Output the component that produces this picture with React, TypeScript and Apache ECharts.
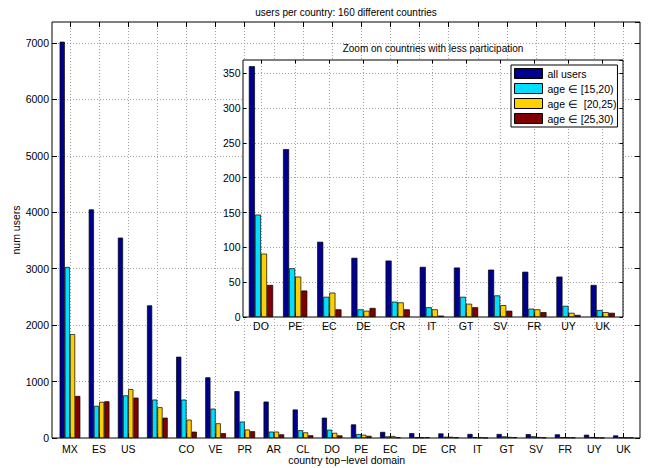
import React, { useEffect, useRef } from 'react';
import * as echarts from 'echarts';

// ---- data ----
const countries = ['MX', 'ES', 'US', '', 'CO', 'VE', 'PR', 'AR', 'CL', 'DO', 'PE', 'EC', 'DE', 'CR', 'IT', 'GT', 'SV', 'FR', 'UY', 'UK'];
const allUsers = [7020, 4050, 3550, 2350, 1440, 1075, 830, 645, 505, 360, 241, 108, 85, 81, 72, 71, 68, 65, 58, 46];
const age15to20 = [3030, 570, 755, 680, 680, 520, 290, 113, 137, 147, 70, 29, 11, 22, 14, 29, 31, 12, 16, 10];
const age20to25 = [1840, 640, 865, 545, 325, 260, 150, 113, 100, 91, 58, 35, 9, 21, 11, 19, 17, 11, 6, 7];
const age25to30 = [745, 650, 715, 360, 112, 85, 120, 65, 48, 46, 38, 11, 13, 11, 2, 14, 9, 7, 3, 6];
const seriesNames = ['all users', 'age \u2208 [15,20)', 'age \u2208  [20,25)', 'age \u2208 [25,30)'];
const zoomStart = 9; // inset shows DO .. UK
const mainYMax = 7370;
const mainYStep = 1000;
const insetYMax = 369;
const insetYStep = 50;
const mainTitle = 'users per country: 160 different countries';
const insetTitle = 'Zoom on countries with less participation';
const xName = 'country top\u2212level domain';
const yName = 'num users';

const seriesValues = [allUsers, age15to20, age20to25, age25to30];
const colors = ['#00008F', '#00DFFF', '#FFCF00', '#800000'];
const FONT = "'Liberation Sans', Arial, Helvetica, sans-serif";

const grid = { color: '#8a8a8a', width: 0.8, type: [1, 2] as any };
const plain = (v: number) => String(v);

function buildOption(): any {
  const insetCats = countries.slice(zoomStart);
  const hiddenX = (gridIndex: number) => ({
    type: 'value', gridIndex, min: 0, max: 1, show: false,
  });
  const hiddenY = (gridIndex: number, max: number) => ({
    type: 'value', gridIndex, min: 0, max, show: false,
  });
  const labelStyle = { fontSize: 10.5, color: '#000', fontFamily: FONT };

  const series: any[] = [];
  seriesValues.forEach((vals, i) => {
    series.push({
      type: 'bar', name: seriesNames[i], xAxisIndex: 1, yAxisIndex: 2, data: vals,
      barGap: '0%', barCategoryGap: '29%', z: 2,
      itemStyle: { color: colors[i], borderColor: '#000', borderWidth: 0.7 },
      emphasis: { disabled: true },
    });
  });
  seriesValues.forEach((vals, i) => {
    series.push({
      type: 'bar', name: seriesNames[i], xAxisIndex: 4, yAxisIndex: 5, data: vals.slice(zoomStart),
      barGap: '0%', barCategoryGap: '29%', z: 12,
      itemStyle: { color: colors[i], borderColor: '#000', borderWidth: 0.7 },
      emphasis: { disabled: true },
    });
  });

  return {
    animation: false,
    textStyle: { fontFamily: FONT },
    grid: [
      { left: 52, top: 22, width: 588, height: 416, show: true, backgroundColor: '#fff', borderColor: '#000', borderWidth: 1, z: 0, outerBoundsMode: 'none', containLabel: false },
      { left: 55.4, top: 22, width: 582.6, height: 416, show: false, z: 0, outerBoundsMode: 'none', containLabel: false },
      { left: 243, top: 60, width: 380, height: 257, show: true, backgroundColor: '#fff', borderColor: '#000', borderWidth: 1, z: 10, outerBoundsMode: 'none', containLabel: false },
      { left: 243.9, top: 60, width: 375.9, height: 257, show: false, z: 10, outerBoundsMode: 'none', containLabel: false },
    ],
    xAxis: [
      hiddenX(0),
      {
        type: 'category', gridIndex: 1, data: countries, position: 'bottom', z: 1,
        axisLine: { show: false },
        axisTick: { show: true, inside: true, alignWithLabel: true, length: 5, interval: 0, lineStyle: { color: '#000' } },
        axisLabel: { ...labelStyle, margin: 5, interval: 0 },
        splitLine: { show: true, alignWithLabel: true, interval: 0, lineStyle: grid },
        name: xName, nameLocation: 'middle', nameGap: 16, nameMoveOverlap: false,
        nameTextStyle: { ...labelStyle },
      },
      {
        type: 'category', gridIndex: 1, data: countries, position: 'top', z: 1,
        axisLine: { show: false },
        axisTick: { show: true, inside: true, alignWithLabel: true, length: 5, interval: 0, lineStyle: { color: '#000' } },
        axisLabel: { show: false },
        splitLine: { show: false },
      },
      hiddenX(2),
      {
        type: 'category', gridIndex: 3, data: insetCats, position: 'bottom', z: 11,
        axisLine: { show: false },
        axisTick: { show: true, inside: true, alignWithLabel: true, length: 3.5, interval: 0, lineStyle: { color: '#000' } },
        axisLabel: { ...labelStyle, margin: 3, interval: 0 },
        splitLine: { show: true, alignWithLabel: true, interval: 0, lineStyle: grid },
      },
      {
        type: 'category', gridIndex: 3, data: insetCats, position: 'top', z: 11,
        axisLine: { show: false },
        axisTick: { show: true, inside: true, alignWithLabel: true, length: 3.5, interval: 0, lineStyle: { color: '#000' } },
        axisLabel: { show: false },
        splitLine: { show: false },
      },
    ],
    yAxis: [
      {
        type: 'value', gridIndex: 0, min: 0, max: mainYMax, interval: mainYStep, position: 'left', z: 1,
        axisLine: { show: false },
        axisTick: { show: true, inside: true, length: 5, lineStyle: { color: '#000' } },
        axisLabel: { ...labelStyle, margin: 3, showMaxLabel: false, formatter: plain },
        splitLine: { show: true, showMinLine: false, showMaxLine: false, lineStyle: grid },
        name: yName, nameLocation: 'middle', nameGap: 31, nameMoveOverlap: false,
        nameTextStyle: { ...labelStyle },
      },
      {
        type: 'value', gridIndex: 0, min: 0, max: mainYMax, interval: mainYStep, position: 'right', z: 1,
        axisLine: { show: false },
        axisTick: { show: true, inside: true, length: 5, lineStyle: { color: '#000' } },
        axisLabel: { show: false },
        splitLine: { show: false },
      },
      hiddenY(1, mainYMax),
      {
        type: 'value', gridIndex: 2, min: 0, max: insetYMax, interval: insetYStep, position: 'left', z: 11,
        axisLine: { show: false },
        axisTick: { show: true, inside: true, length: 3.5, lineStyle: { color: '#000' } },
        axisLabel: { ...labelStyle, margin: 2.5, showMaxLabel: false, formatter: plain },
        splitLine: { show: true, showMinLine: false, showMaxLine: false, lineStyle: grid },
      },
      {
        type: 'value', gridIndex: 2, min: 0, max: insetYMax, interval: insetYStep, position: 'right', z: 11,
        axisLine: { show: false },
        axisTick: { show: true, inside: true, length: 3.5, lineStyle: { color: '#000' } },
        axisLabel: { show: false },
        splitLine: { show: false },
      },
      hiddenY(3, insetYMax),
    ],
    legend: {
      data: seriesNames, orient: 'vertical', left: 511, top: 65,
      itemWidth: 28, itemHeight: 10, itemGap: 4, padding: [3, 1, 3, 3],
      backgroundColor: '#fff', borderColor: '#000', borderWidth: 1, borderRadius: 0,
      icon: 'rect', selectedMode: false, z: 20,
      itemStyle: { borderColor: '#000', borderWidth: 1 },
      textStyle: { ...labelStyle },
    },
    graphic: [
      { type: 'text', x: 346, y: 12, z: 20, style: { text: mainTitle, fontSize: 10, fontFamily: FONT, fill: '#000', align: 'center', verticalAlign: 'middle' } },
      { type: 'text', x: 433, y: 48, z: 20, style: { text: insetTitle, fontSize: 10, fontFamily: FONT, fill: '#000', align: 'center', verticalAlign: 'middle' } },
    ],
    series,
  };
}

export default function App() {
  const ref = useRef<HTMLDivElement>(null);
  useEffect(() => {
    document.body.style.margin = '0';
    if (!ref.current) return;
    const chart = echarts.init(ref.current, undefined, { renderer: 'svg' });
    chart.setOption(buildOption());
    return () => chart.dispose();
  }, []);
  return <div ref={ref} style={{ width: 649, height: 468, background: '#fff' }} />;
}
